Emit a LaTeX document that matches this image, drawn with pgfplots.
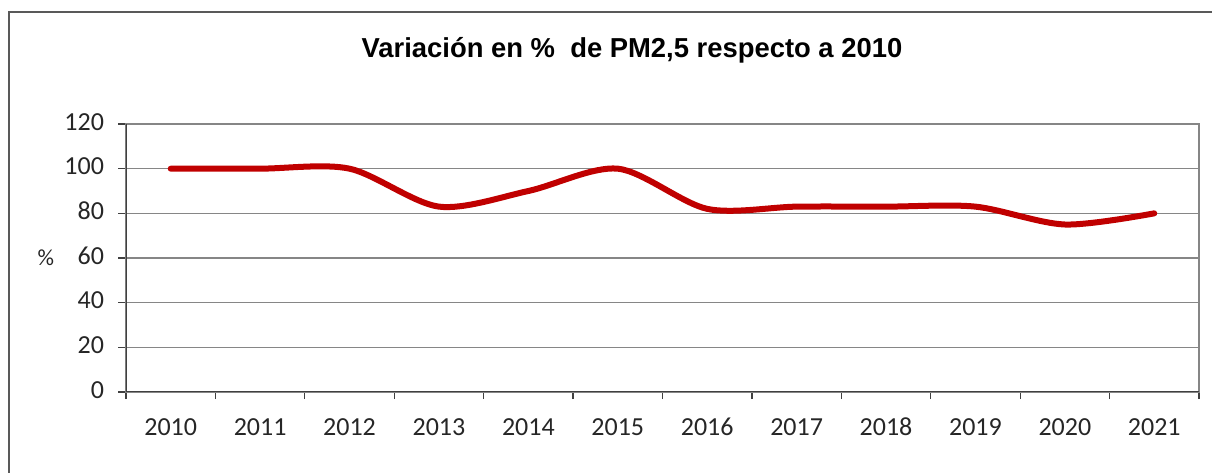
\documentclass[border=0pt]{standalone}
\usepackage{pgfplots}
\pgfplotsset{compat=1.18}
\usepackage{fontspec}
\setmainfont{Carlito}
\newfontfamily\titlefont{Liberation Sans}
\definecolor{lred}{RGB}{192,0,0}
\definecolor{gridc}{RGB}{134,134,134}
\definecolor{axc}{RGB}{64,64,64}
\definecolor{framec}{RGB}{89,89,89}
\begin{document}
\begin{tikzpicture}
\useasboundingbox (0,0) rectangle (606pt,236pt);
\draw[framec, line width=0.9pt] (4.5pt,-1pt) -- (4.5pt,230pt) -- (607pt,230pt);
\node[font=\titlefont\bfseries\fontsize{13.7}{16}\selectfont] at (316pt,211pt) {Variación en \%\ \ de PM2,5 respecto a 2010};
\begin{axis}[
  at={(63pt,40pt)}, anchor=south west, scale only axis,
  width=536.5pt, height=134pt,
  xmin=-0.5, xmax=11.5, ymin=0, ymax=120,
  xtick={0,...,11},
  xticklabels={2010,2011,2012,2013,2014,2015,2016,2017,2018,2019,2020,2021},
  minor xtick={-0.5,0.5,...,11.5},
  ytick={0,20,...,120},
  tick pos=left,
  tick align=outside,
  major tick length=4pt,
  minor tick length=3.5pt,
  major x tick style={draw=none},
  tick style={axc, line width=0.6pt},
  ymajorgrids,
  major grid style={gridc, line width=0.8pt},
  axis line style={gridc, line width=0.8pt},
  typeset ticklabels with strut,
  tick label style={font=\fontsize{13}{15}\selectfont, color=black!85},
  xticklabel style={yshift=-3.5pt},
  yticklabel style={xshift=-3.5pt},
  /pgf/number format/assume math mode=true,
  ylabel={\%},
  every axis y label/.style={at={(axis description cs:-0.0746,0.5)}, anchor=center, font=\fontsize{11.5}{13}\selectfont, color=black!85},
]
\addplot[lred, line width=3pt, smooth, line cap=round] coordinates {
  (0,100) (1,100) (2,100) (3,83) (4,90) (5,100) (6,82) (7,83) (8,83) (9,83) (10,75) (11,80)
};
\draw[axc, line width=0.8pt] (rel axis cs:0,1) -- (rel axis cs:0,0) -- (rel axis cs:1,0);
\end{axis}
\end{tikzpicture}
\end{document}
